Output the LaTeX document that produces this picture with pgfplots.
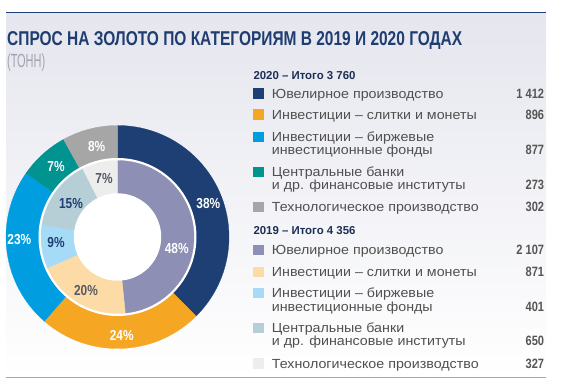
\documentclass[border=0pt]{standalone}
\usepackage{fontspec}
\setmainfont{Liberation Sans}
\newfontfamily\cond[FakeStretch=0.82]{Liberation Sans}
\newfontfamily\legf[FakeStretch=1.08]{Liberation Sans}
\usepackage{graphicx}
\usepackage{pgfplots}
\pgfplotsset{compat=1.18}
\usetikzlibrary{shadings}

\definecolor{navy}{HTML}{1D3F73}
\definecolor{orng}{HTML}{F5A623}
\definecolor{cyanb}{HTML}{009EE0}
\definecolor{tealb}{HTML}{00938F}
\definecolor{grayb}{HTML}{A6A6A6}
\definecolor{lav}{HTML}{8D8FB5}
\definecolor{beige}{HTML}{FDDBA6}
\definecolor{lblue}{HTML}{A6DBF7}
\definecolor{lteal}{HTML}{B6CFD6}
\definecolor{lgray}{HTML}{EDEDED}
\definecolor{titlec}{HTML}{1F3D70}
\definecolor{headc}{HTML}{1E2F55}
\definecolor{txt}{HTML}{505050}
\definecolor{numc}{HTML}{555555}
\definecolor{bgtop}{HTML}{E5E6EE}
\definecolor{tonn}{HTML}{A0A2B0}
\definecolor{dlab}{HTML}{555A66}

% 2020 (tonnes)
\def\Ajew{1412}\def\Abar{896}\def\Aetf{877}\def\Acb{273}\def\Atech{302}\def\Atot{3760}
% 2019 (tonnes)
\def\Bjew{2107}\def\Bbar{871}\def\Betf{401}\def\Bcb{650}\def\Btech{327}\def\Btot{4356}

\pgfmathsetmacro\oA{90}
\pgfmathsetmacro\oB{\oA-\Ajew/\Atot*360}
\pgfmathsetmacro\oC{\oB-\Abar/\Atot*360}
\pgfmathsetmacro\oD{\oC-\Aetf/\Atot*360}
\pgfmathsetmacro\oE{\oD-\Acb/\Atot*360}
\pgfmathsetmacro\oF{\oE-\Atech/\Atot*360}
\pgfmathsetmacro\iA{90}
\pgfmathsetmacro\iB{\iA-\Bjew/\Btot*360}
\pgfmathsetmacro\iC{\iB-\Bbar/\Btot*360}
\pgfmathsetmacro\iD{\iC-\Betf/\Btot*360}
\pgfmathsetmacro\iE{\iD-\Bcb/\Btot*360}
\pgfmathsetmacro\iF{\iE-\Btech/\Btot*360}

\newcommand\legtxt[2]{\node[anchor=base west,inner sep=0,text=txt,font=\legf\fontsize{13.2}{14}\selectfont] at (271.7,#1) {#2};}
\newcommand\legnum[2]{\node[anchor=base east,inner sep=0,text=numc,font=\cond\bfseries\fontsize{13.5}{14}\selectfont] at (544.3,#1) {#2};}
\newcommand\legsq[2]{\fill[#2] (253.3,#1-0.3) rectangle (264.2,#1+9.8);}

\begin{document}
\begin{tikzpicture}[x=1pt,y=1pt]
\useasboundingbox (0,0) rectangle (567,385);
\shade[top color=bgtop,bottom color=white] (6,7.5) rectangle (546,372.7);
\draw[navy,line width=1.1pt] (6,372.7) -- (546,372.7);
\draw[grayb,line width=1.1pt] (6,7.5) -- (546,7.5);

\node[anchor=base west,inner sep=0,text=titlec] at (7,339)
 {\resizebox{455pt}{\height}{\bfseries\fontsize{20}{21}\selectfont СПРОС НА ЗОЛОТО ПО КАТЕГОРИЯМ В 2019 И 2020 ГОДАХ}};
\node[anchor=base west,inner sep=0,text=tonn] at (7,317.3)
 {\resizebox{38pt}{\height}{\fontsize{19}{20}\selectfont (ТОНН)}};

\begin{axis}[at={(117.5,148)},anchor=center,width=223pt,height=223pt,scale only axis,
  xmin=-111.5,xmax=111.5,ymin=-111.5,ymax=111.5,hide axis,clip=false]
\addplot[fill=navy,draw=navy,line width=0.3pt,domain=\oB:\oA,samples=80] ({111.5*cos(x)},{111.5*sin(x)}) -- (0,0) -- cycle;
\addplot[fill=orng,draw=orng,line width=0.3pt,domain=\oC:\oB,samples=60] ({111.5*cos(x)},{111.5*sin(x)}) -- (0,0) -- cycle;
\addplot[fill=cyanb,draw=cyanb,line width=0.3pt,domain=\oD:\oC,samples=60] ({111.5*cos(x)},{111.5*sin(x)}) -- (0,0) -- cycle;
\addplot[fill=tealb,draw=tealb,line width=0.3pt,domain=\oE:\oD,samples=30] ({111.5*cos(x)},{111.5*sin(x)}) -- (0,0) -- cycle;
\addplot[fill=grayb,draw=grayb,line width=0.3pt,domain=\oF:\oE,samples=30] ({111.5*cos(x)},{111.5*sin(x)}) -- (0,0) -- cycle;
\addplot[fill=white,draw=none,domain=0:360,samples=180] ({79*cos(x)},{79*sin(x)}) -- cycle;
\addplot[fill=lav,draw=lav,line width=0.3pt,domain=\iB:\iA,samples=80] ({76.5*cos(x)},{76.5*sin(x)}) -- (0,0) -- cycle;
\addplot[fill=beige,draw=beige,line width=0.3pt,domain=\iC:\iB,samples=50] ({76.5*cos(x)},{76.5*sin(x)}) -- (0,0) -- cycle;
\addplot[fill=lblue,draw=lblue,line width=0.3pt,domain=\iD:\iC,samples=30] ({76.5*cos(x)},{76.5*sin(x)}) -- (0,0) -- cycle;
\addplot[fill=lteal,draw=lteal,line width=0.3pt,domain=\iE:\iD,samples=40] ({76.5*cos(x)},{76.5*sin(x)}) -- (0,0) -- cycle;
\addplot[fill=lgray,draw=lgray,line width=0.3pt,domain=\iF:\iE,samples=30] ({76.5*cos(x)},{76.5*sin(x)}) -- (0,0) -- cycle;
\addplot[fill=white,draw=none,domain=0:360,samples=180] ({43.7*cos(x)},{43.7*sin(x)}) -- cycle;

\tikzset{lbl/.style={font=\cond\bfseries\fontsize{14.5}{15}\selectfont,inner sep=0}}
\node[lbl,text=white] at (axis cs:90.8,33.7) {38\%};
\node[lbl,text=white] at (axis cs:4.2,-98) {24\%};
\node[lbl,text=white] at (axis cs:-98.2,-3) {23\%};
\node[lbl,text=white] at (axis cs:-61.5,70.3) {7\%};
\node[lbl,text=white] at (axis cs:-20.8,90.3) {8\%};
\node[lbl,text=white] at (axis cs:59.2,-11.3) {48\%};
\node[lbl,text=dlab] at (axis cs:-31.5,-53.7) {20\%};
\node[lbl,text=navy] at (axis cs:-61.5,-5.7) {9\%};
\node[lbl,text=navy] at (axis cs:-46.5,33.7) {15\%};
\node[lbl,text=dlab] at (axis cs:-13.5,58.7) {7\%};
\end{axis}

% legend 2020
\node[anchor=base west,inner sep=0,text=headc] at (253.3,305.7)
 {\resizebox{102pt}{\height}{\cond\bfseries\fontsize{11.5}{12}\selectfont 2020 – Итого 3 760}};
\legsq{286.7}{navy}\legtxt{286.7}{Ювелирное производство}\legnum{286.7}{1 412}
\legsq{265.7}{orng}\legtxt{265.7}{Инвестиции – слитки и монеты}\legnum{265.7}{896}
\legsq{243.3}{cyanb}\legtxt{243.3}{Инвестиции – биржевые}\legtxt{230}{инвестиционные фонды}\legnum{230}{877}
\legsq{208.3}{tealb}\legtxt{208.3}{Центральные банки}\legtxt{195}{и др. финансовые институты}\legnum{195}{273}
\legsq{173.3}{grayb}\legtxt{173.3}{Технологическое производство}\legnum{173.3}{302}

% legend 2019
\node[anchor=base west,inner sep=0,text=headc] at (253.3,150.7)
 {\resizebox{102pt}{\height}{\cond\bfseries\fontsize{11.5}{12}\selectfont 2019 – Итого 4 356}};
\legsq{130}{lav}\legtxt{130}{Ювелирное производство}\legnum{130}{2 107}
\legsq{108.3}{beige}\legtxt{108.3}{Инвестиции – слитки и монеты}\legnum{108.3}{871}
\legsq{87.3}{lblue}\legtxt{87.3}{Инвестиции – биржевые}\legtxt{73.3}{инвестиционные фонды}\legnum{73.3}{401}
\legsq{52.3}{lteal}\legtxt{52.3}{Центральные банки}\legtxt{39}{и др. финансовые институты}\legnum{39}{650}
\legsq{16.7}{lgray}\legtxt{16.7}{Технологическое производство}\legnum{16.7}{327}
\end{tikzpicture}
\end{document}
